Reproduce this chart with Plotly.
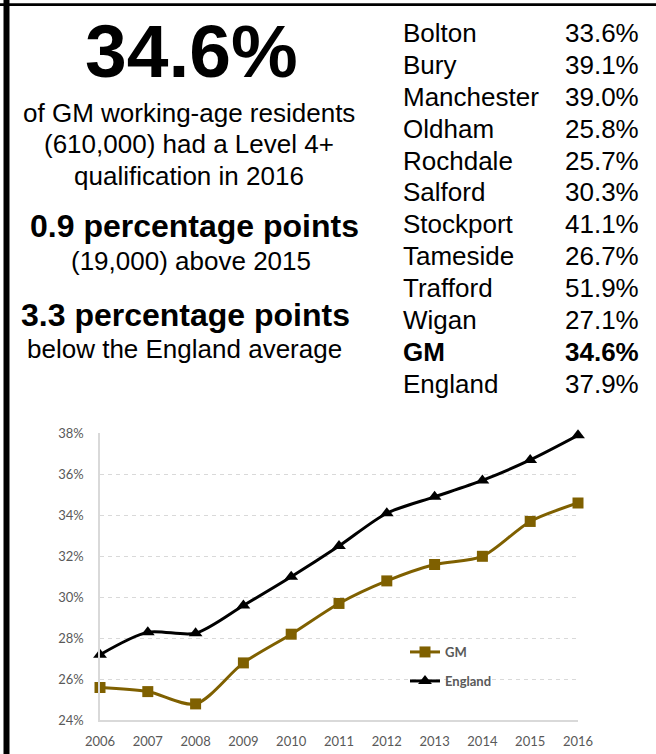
import plotly.graph_objects as go

# ---- data ----
years = [2006, 2007, 2008, 2009, 2010, 2011, 2012, 2013, 2014, 2015, 2016]
gm = [25.6, 25.4, 24.8, 26.8, 28.2, 29.7, 30.8, 31.6, 32.0, 33.7, 34.6]
england = [27.2, 28.3, 28.25, 29.6, 31.0, 32.5, 34.1, 34.9, 35.7, 36.7, 37.9]
y_ticks = [24, 26, 28, 30, 32, 34, 36, 38]
y_tick_labels = ["24%", "26%", "28%", "30%", "32%", "34%", "36%", "38%"]

areas = ["Bolton", "Bury", "Manchester", "Oldham", "Rochdale", "Salford",
         "Stockport", "Tameside", "Trafford", "Wigan", "GM", "England"]
area_values = ["33.6%", "39.1%", "39.0%", "25.8%", "25.7%", "30.3%",
               "41.1%", "26.7%", "51.9%", "27.1%", "34.6%", "37.9%"]

headline = "34.6%"
body_lines = ["of GM working-age residents", "(610,000) had a Level 4+", "qualification in 2016"]
stat1_bold = "0.9 percentage points"
stat1_sub = "(19,000) above 2015"
stat2_bold = "3.3 percentage points"
stat2_sub = "below the England average"

W, H = 656, 754
GM_COL = "#7f6000"
GRAY = "#595959"
ARIAL = "Liberation Sans, Arial, sans-serif"
CAL = "Lato, Carlito, sans-serif"


def py(px):
    return 1 - px / H


def px_x(px):
    return px / W


fig = go.Figure()
fig.add_trace(go.Scatter(
    x=years, y=gm, name="GM", mode="lines+markers",
    line=dict(color=GM_COL, width=3, shape="spline", smoothing=0.8),
    marker=dict(symbol="square", size=11, color=GM_COL),
    cliponaxis=False, legend="legend"))
fig.add_trace(go.Scatter(
    x=years, y=england, name="England", mode="lines+markers",
    line=dict(color="black", width=3, shape="spline", smoothing=0.8),
    marker=dict(symbol="triangle-up", size=12, color="black"),
    cliponaxis=False, legend="legend2"))

annotations = []


def text(s, xc, baseline, size, bold=False, xanchor="center", color="black"):
    annotations.append(dict(
        text=f"<b>{s}</b>" if bold else s, x=px_x(xc), y=py(baseline - 0.35 * size),
        xref="paper", yref="paper", xanchor=xanchor, yanchor="middle",
        showarrow=False, font=dict(family=ARIAL, size=size, color=color)))


text(headline, 191, 77, 75, bold=True)
for i, s in enumerate(body_lines):
    text(s, 189, 121.7 + 31.7 * i, 26)
text(stat1_bold, 194, 237.5, 32, bold=True)
text(stat1_sub, 191, 270.5, 26)
text(stat2_bold, 186, 326.5, 32, bold=True)
text(stat2_sub, 185, 358, 26)

for i, (a, v) in enumerate(zip(areas, area_values)):
    b = 42 + 31.9 * i
    bold = a == "GM"
    text(a, 401, b, 26, bold=bold, xanchor="left")
    text(v, 641, b, 26, bold=bold, xanchor="right")

shapes = [
    dict(type="line", xref="paper", yref="paper", x0=0, x1=1, y0=py(4.6), y1=py(4.6),
         line=dict(color="black", width=2.6)),
    dict(type="line", xref="paper", yref="paper", x0=px_x(6.5), x1=px_x(6.5), y0=0, y1=1,
         line=dict(color="black", width=6)),
]

fig.update_layout(
    template="none",
    width=W, height=H, margin=dict(l=0, r=0, t=0, b=0, autoexpand=False),
    paper_bgcolor="white", plot_bgcolor="white",
    annotations=annotations, shapes=shapes,
    xaxis=dict(domain=[px_x(100), px_x(578)], range=[2006, 2016], tickvals=years,
               automargin=False,
               showgrid=False, zeroline=False, showline=True, linecolor="#d9d9d9", linewidth=1.5,
               ticks="", ticklabelstandoff=8,
               tickfont=dict(family=CAL, size=13, color=GRAY)),
    yaxis=dict(domain=[py(720.3), py(433.3)], range=[24, 38], tickvals=y_ticks,
               ticktext=y_tick_labels, automargin=False,
               showgrid=True, gridcolor="#d9d9d9", griddash="4px,4px", gridwidth=1,
               zeroline=False, showline=True, linecolor="#d9d9d9", linewidth=1.5,
               ticks="", ticklabelstandoff=12,
               tickfont=dict(family=CAL, size=13, color=GRAY)),
    legend=dict(x=px_x(405), y=py(652), xanchor="left", yanchor="middle",
                bgcolor="rgba(0,0,0,0)", font=dict(family=CAL, size=13, color=GRAY, weight="bold"),
                itemwidth=30),
    legend2=dict(x=px_x(405), y=py(681), xanchor="left", yanchor="middle",
                 bgcolor="rgba(0,0,0,0)", font=dict(family=CAL, size=13, color=GRAY, weight="bold"),
                 itemwidth=30),
    showlegend=True,
)

fig.write_html("out.html", config={"displayModeBar": False},
               post_script="document.body.style.margin='0';document.body.style.overflow='hidden';")
